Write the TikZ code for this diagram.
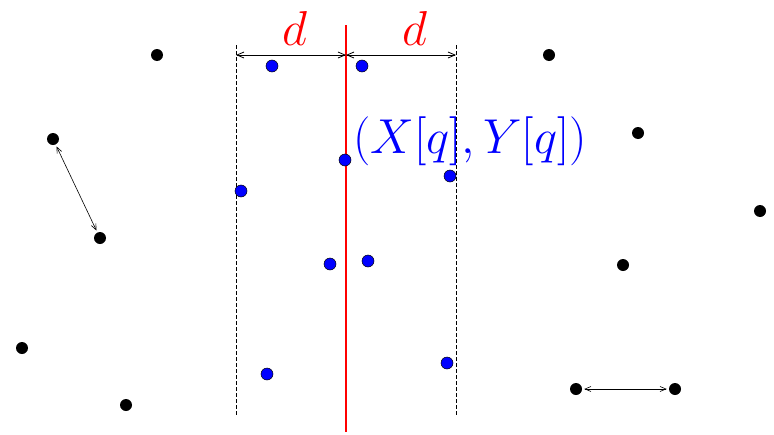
\documentclass[tikz,border=0pt]{standalone}
\usetikzlibrary{arrows.meta}
\begin{document}
\begin{tikzpicture}[x=1pt,y=-1pt,
  bdot/.style={circle,fill=black,inner sep=0pt,minimum size=12pt},
  udot/.style={circle,fill=blue,draw=black,line width=0.5pt,inner sep=0pt,minimum size=12pt},
  dimarrow/.style={line width=0.8pt,{Straight Barb[length=7pt,width=6pt]}-{Straight Barb[length=7pt,width=6pt]}},
  linkarrow/.style={line width=0.6pt,{Straight Barb[length=6pt,width=5pt]}-{Straight Barb[length=6pt,width=5pt]},shorten <=2pt,shorten >=2pt},
  boundary/.style={dashed,line width=0.8pt,dash pattern=on 4pt off 2pt},
  lbl/.style={inner sep=0pt,font=\Huge,scale=1.97,transform shape}]
\useasboundingbox (0,0) rectangle (774,434);
% black points
\node[bdot] (b1) at (157,55) {};
\node[bdot] (b2) at (53,139) {};
\node[bdot] (b3) at (100,238) {};
\node[bdot] (b4) at (22,348) {};
\node[bdot] (b5) at (126,405) {};
\node[bdot] (b6) at (549,55) {};
\node[bdot] (b7) at (638,133) {};
\node[bdot] (b8) at (760,211) {};
\node[bdot] (b9) at (623,265) {};
\node[bdot] (b10) at (576,389) {};
\node[bdot] (b11) at (675,389) {};
% boundaries
\coordinate (lt) at (236,45);
\coordinate (lb) at (236,415);
\coordinate (rt) at (456,45);
\coordinate (rb) at (456,415);
\coordinate (mt) at (346,25);
\coordinate (mb) at (346,432);
\draw[boundary] (lt) -- (lb);
\draw[boundary] (rt) -- (rb);
\draw[red,line width=1.4pt] (mt) -- (mb);
% blue points
\node[udot] (u1) at (272,66) {};
\node[udot] (u2) at (362,66) {};
\node[udot] (u3) at (345,160) {};
\node[udot] (u4) at (241,191) {};
\node[udot] (u5) at (450,176) {};
\node[udot] (u6) at (330,264) {};
\node[udot] (u7) at (368,261) {};
\node[udot] (u8) at (267,374) {};
\node[udot] (u9) at (447,363) {};
% dimension arrows
\coordinate (al) at (236,55);
\coordinate (am) at (346,55);
\coordinate (ar) at (456,55);
\draw[dimarrow] (al) -- (am);
\draw[dimarrow] (am) -- (ar);
\node[lbl,red,anchor=base] (d1) at (295,45) {$d$};
\node[lbl,red,anchor=base] (d2) at (415,45) {$d$};
\node[lbl,blue,anchor=base west] (q) at (353,153) {$(X[q],Y[q])$};
% links
\draw[linkarrow] (b2) -- (b3);
\draw[linkarrow] (b10) -- (b11);
\end{tikzpicture}
\end{document}
